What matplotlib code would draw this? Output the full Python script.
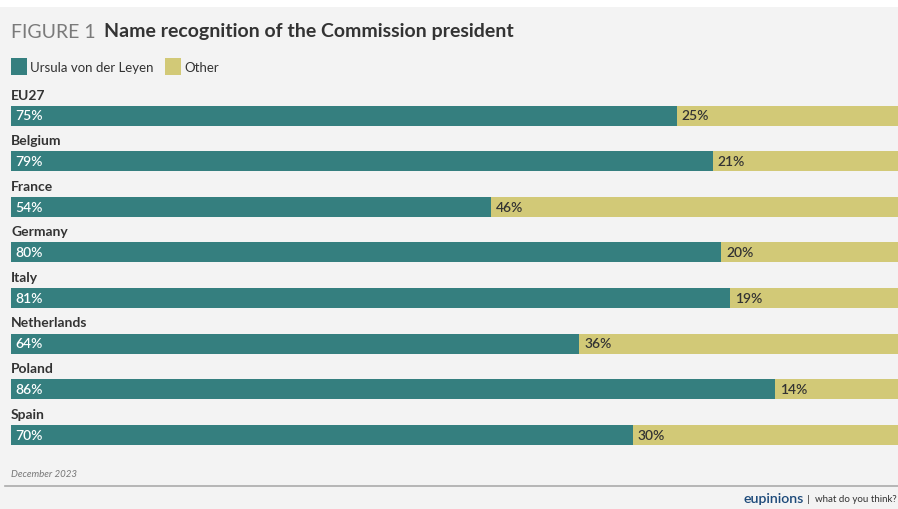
import matplotlib.pyplot as plt
from matplotlib.patches import Rectangle

plt.rcParams['font.family'] = ['Lato', 'DejaVu Sans']

countries = ['EU27', 'Belgium', 'France', 'Germany', 'Italy', 'Netherlands', 'Poland', 'Spain']
vdl = [75, 79, 54, 80, 81, 64, 86, 70]
other = [25, 21, 46, 20, 19, 36, 14, 30]

teal = '#357f7f'
sand = '#d2c977'
bg = '#f3f3f3'
dark = '#333333'

W, H = 898, 510
fig = plt.figure(figsize=(W / 100, H / 100), dpi=100)
fig.patch.set_facecolor('white')
# grey panel behind everything
fig.patches.append(Rectangle((0, 0), 1, 1 - 8 / H, transform=fig.transFigure,
                             facecolor=bg, edgecolor='none', zorder=-5))

# axes in pixel-like units vertically, percent horizontally
ax = fig.add_axes([11 / W, 0, 888 / W, 1])
ax.set_zorder(2)
ax.set_xlim(0, 100)
ax.set_ylim(H, 0)
ax.axis('off')
ax.patch.set_alpha(0)

first_top = 106.5
step = 45.6
bar_h = 20
for i, (c, a, b) in enumerate(zip(countries, vdl, other)):
    top = first_top + i * step
    ax.barh(top + bar_h / 2, a, height=bar_h, left=0, color=teal)
    ax.barh(top + bar_h / 2, b, height=bar_h, left=a, color=sand)
    ax.text(0, top - 11, c, fontsize=10, fontweight='bold', color=dark,
            va='center', ha='left')
    ax.text(0.45, top + bar_h / 2, f'{a}%', fontsize=10, color='white',
            fontweight='semibold', va='center', ha='left')
    ax.text(a + 0.55, top + bar_h / 2, f'{b}%', fontsize=10, color=dark,
            fontweight='semibold', va='center', ha='left')

# title
fig.text(11 / W, 1 - 32 / H, 'FIGURE 1', fontsize=14, fontweight='normal',
         color='#7a7a7a', va='center', ha='left')
fig.text(104 / W, 1 - 32 / H, 'Name recognition of the Commission president',
         fontsize=14, fontweight='bold', color=dark, va='center', ha='left')

# legend
for x0, lab, col in [(11, 'Ursula von der Leyen', teal), (165, 'Other', sand)]:
    fig.patches.append(Rectangle((x0 / W, 1 - 76 / H), 16 / W, 17 / H,
                                 transform=fig.transFigure, facecolor=col,
                                 edgecolor='none'))
    fig.text((x0 + 19) / W, 1 - 67.5 / H, lab, fontsize=9.5, color=dark,
             va='center', ha='left')

# footer
fig.text(11 / W, 1 - 475 / H, 'December 2023', fontsize=7, style='italic',
         color='#777777', va='center', ha='left')
fig.add_artist(plt.Line2D([5 / W, 1], [1 - 487 / H] * 2, color='#aaaaaa', lw=1.2))
fig.text(804 / W, 1 - 499 / H, 'eupinions', fontsize=10.2, fontweight='semibold',
         color='#1d4a7a', va='center', ha='right')
fig.text(807 / W, 1 - 499.5 / H, '|', fontsize=7.5, color=dark,
         va='center', ha='left')
fig.text(897 / W, 1 - 499.5 / H, 'what do you think?', fontsize=7,
         color=dark, va='center', ha='right')

fig.savefig('out.png', dpi=100, facecolor=fig.get_facecolor())
